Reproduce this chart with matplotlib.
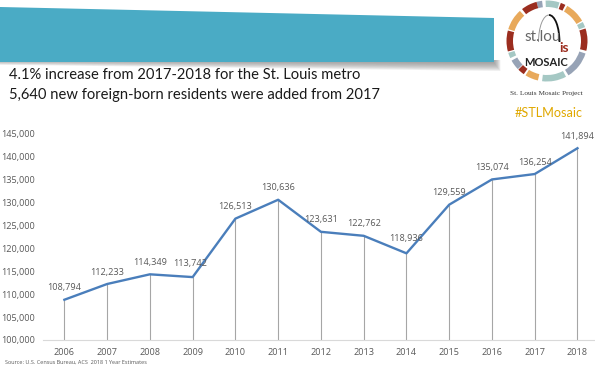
import numpy as np
import matplotlib
matplotlib.use("Agg")
import matplotlib.pyplot as plt
from matplotlib.patches import Polygon, Wedge, Arc

years = [2006, 2007, 2008, 2009, 2010, 2011, 2012, 2013, 2014, 2015, 2016, 2017, 2018]
residents = [108794, 112233, 114349, 113742, 126513, 130636, 123631, 122762, 118936, 129559, 135074, 136254, 141894]
y_ticks = [100000, 105000, 110000, 115000, 120000, 125000, 130000, 135000, 140000, 145000]
headline = ["4.1% increase from 2017-2018 for the St. Louis metro",
            "5,640 new foreign-born residents were added from 2017"]
source = "Source: U.S. Census Bureau, ACS  2018 1 Year Estimates"

W, H = 595, 365
GREY = "#595959"
RED, ORANGE, TEAL, SLATE = "#9B2D1F", "#E8A95B", "#A5C8C4", "#97A3B6"
plt.rcParams['font.family'] = ['Open Sans', 'DejaVu Sans']

fig = plt.figure(figsize=(W / 100, H / 100), dpi=100)

# overlay in pixel coords for the banner and logo
bg = fig.add_axes([0, 0, 1, 1])
bg.set_xlim(0, W)
bg.set_ylim(H, 0)
bg.axis("off")

# soft shadow under the banner
for k in range(9):
    bg.add_patch(Polygon([(0, 60), (494 + k * 0.8, 60), (494 + k * 0.8, 63 + k), (0, 60 + k * 0.6)],
                         closed=True, fc="#808080", ec="none", alpha=0.12))
bg.add_patch(Polygon([(0, 7), (494, 18), (494, 62), (0, 62)], closed=True, fc="#4AABC5", ec="none"))

bg.text(9, 75, headline[0], fontsize=10.6, color="#1a1a1a", va="center", family="Lato")
bg.text(9, 94.5, headline[1], fontsize=10.65, color="#1a1a1a", va="center", family="Lato")

# logo ring, angles run clockwise from east because y is flipped
lx, ly = 547, 41
segs = [(-105, -97, SLATE), (-92, -72, TEAL), (-70, -63, RED), (-60, -30, ORANGE), (-28, -20, TEAL),
        (-18, 14, RED), (18, 58, SLATE), (62, 97, TEAL), (103, 122, ORANGE), (125, 135, RED),
        (136, 151, SLATE), (155, 163, TEAL), (165, 195, RED), (197, 228, ORANGE), (232, 255, RED)]
for a0, a1, c in segs:
    bg.add_patch(Wedge((lx, ly), 40.5, a0, a1, width=6.5, fc=c, ec="none"))
bg.add_patch(Arc((549, 42), 21, 54, theta1=180, theta2=270, ec="#999999", lw=0.7))
bg.add_patch(Arc((549, 42), 21, 54, theta1=270, theta2=360, ec="#111111", lw=1.3))
bg.text(524, 37, "st.lou", fontsize=11, color="#666666", va="center", ha="left", family="Lato")
bg.text(564, 48, "is", fontsize=10, color=RED, va="center", ha="center", weight="bold", family="Lato")
bg.text(546, 62, "MOSAIC", fontsize=8, color="#222222", va="center", ha="center", weight="bold", family="Lato")
bg.text(546, 94, "St. Louis Mosaic Project", fontsize=5.2, color="#333333", va="center", ha="center", family="Liberation Serif")
bg.text(549, 113, "#STLMosaic", fontsize=9.1, color="#E0A800", va="center", ha="center", family="Lato")

bg.text(5, 362, source, fontsize=4.0, color=GREY, va="center")

# chart, axes spans 43..595 px
ax = fig.add_axes([43 / W, (H - 340) / H, (W - 43) / W, (340 - 134) / H])
ax.patch.set_alpha(0)
x = np.arange(len(years))
ax.vlines(x, 100000, residents, color="#A6A6A6", lw=0.8, zorder=1)
ax.plot(x, residents, color="#4A7EBB", lw=1.7, zorder=2)
ax.set_xlim(-0.5, 12.41)
ax.set_ylim(100000, 145000)
ax.set_xticks(x)
ax.set_xticklabels(years)
ax.set_yticks(y_ticks)
ax.set_yticklabels([f"{v:,}" for v in y_ticks])
ax.tick_params(length=0, labelsize=6.6, colors=GREY)
ax.tick_params(axis="x", pad=5.5)
ax.tick_params(axis="y", pad=6)
for side in ["top", "right", "left"]:
    ax.spines[side].set_visible(False)
ax.spines["bottom"].set_color("#D9D9D9")

label_dx = {3: -3}
label_dy = {3: 14, 8: 15}
for i, v in enumerate(residents):
    ax.annotate(f"{v:,}", (i, v), xytext=(label_dx.get(i, 0) * 0.72, label_dy.get(i, 12) * 0.72),
                textcoords="offset points", ha="center", va="center", fontsize=6.6, color=GREY)

fig.savefig("out.png", dpi=100)
